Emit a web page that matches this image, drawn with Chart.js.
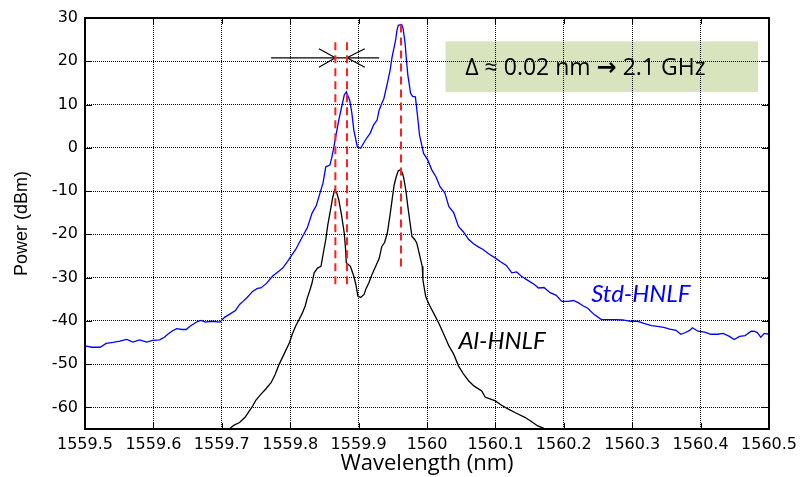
<!DOCTYPE html>
<html>
<head>
<meta charset="utf-8">
<script src="https://cdn.jsdelivr.net/npm/chart.js@4.4.1/dist/chart.umd.min.js"></script>
<style>
html,body{margin:0;padding:0;background:#fff;}
#wrap{width:803px;height:477px;position:relative;}
</style>
</head>
<body>
<div id="wrap"><canvas id="c"></canvas></div>
<script>
// ---- data ----
const stdWavelength = [1559.500,1559.510,1559.522,1559.531,1559.541,1559.551,1559.561,1559.570,1559.580,1559.590,
1559.599,1559.609,1559.616,1559.621,1559.627,1559.634,1559.642,1559.648,1559.653,1559.658,
1559.665,1559.670,1559.676,1559.685,1559.697,1559.704,1559.711,1559.720,1559.726,1559.731,
1559.737,1559.745,1559.752,1559.757,1559.765,1559.774,1559.781,1559.789,1559.796,1559.801,
1559.808,1559.818,1559.825,1559.832,1559.838,1559.842,1559.848,1559.852,1559.858,1559.861,
1559.864,1559.871,1559.879,1559.882,1559.887,1559.890,1559.893,1559.898,1559.903,1559.910,
1559.917,1559.922,1559.927,1559.930,1559.934,1559.937,1559.942,1559.946,1559.949,1559.954,
1559.956,1559.958,1559.963,1559.965,1559.968,1559.970,1559.972,1559.976,1559.979,1559.983,
1559.986,1559.989,1559.995,1560.001,1560.007,1560.013,1560.019,1560.026,1560.032,1560.039,
1560.046,1560.053,1560.061,1560.068,1560.075,1560.082,1560.090,1560.100,1560.107,1560.116,
1560.124,1560.131,1560.138,1560.148,1560.157,1560.163,1560.171,1560.180,1560.189,1560.197,
1560.206,1560.214,1560.221,1560.228,1560.235,1560.244,1560.255,1560.264,1560.276,1560.286,
1560.298,1560.308,1560.317,1560.328,1560.337,1560.346,1560.355,1560.364,1560.371,1560.378,
1560.384,1560.388,1560.396,1560.406,1560.415,1560.425,1560.433,1560.442,1560.449,1560.457,
1560.465,1560.474,1560.478,1560.483,1560.488,1560.493,1560.500];
const stdPower = [-45.8,-46.1,-46.1,-45.2,-45.0,-44.7,-44.3,-44.9,-44.4,-44.9,
-44.5,-44.4,-43.8,-43.1,-42.4,-41.8,-42.0,-42.0,-41.3,-40.8,
-40.1,-39.9,-40.3,-40.1,-40.3,-39.2,-38.5,-37.6,-36.2,-35.5,
-34.6,-33.2,-32.5,-32.4,-31.4,-29.7,-28.8,-27.8,-26.3,-25.1,
-23.5,-20.5,-18.5,-15.1,-13.4,-11.3,-8.1,-4.4,-4.0,-2.1,
0.3,6.4,12.2,12.9,11.0,8.2,4.1,0.3,-0.1,1.8,
3.4,5.3,6.4,8.7,10.3,11.4,14.9,17.9,21.0,24.8,
27.1,28.3,28.5,27.6,24.1,20.2,16.8,12.6,11.9,11.8,
7.6,3.0,-1.3,-2.8,-5.1,-6.7,-9.0,-10.4,-13.6,-15.0,
-18.2,-19.4,-21.2,-22.2,-22.9,-23.5,-24.5,-25.5,-26.3,-27.2,
-28.9,-28.7,-29.7,-30.7,-31.6,-32.4,-32.3,-33.5,-34.1,-35.5,
-35.5,-35.3,-35.8,-36.5,-37.1,-38.5,-39.7,-39.7,-39.7,-39.8,
-40.1,-40.1,-40.6,-41.1,-41.3,-41.5,-41.9,-42.2,-43.1,-42.7,
-42.2,-41.6,-42.4,-42.6,-43.1,-43.1,-42.9,-43.6,-44.3,-43.6,
-43.4,-42.4,-42.4,-42.7,-43.8,-42.9,-43.1];

const alWavelength = [1559.711,1559.718,1559.726,1559.734,1559.745,1559.750,1559.757,1559.764,1559.772,1559.778,
1559.784,1559.791,1559.799,1559.803,1559.808,1559.813,1559.818,1559.822,1559.825,1559.829,
1559.832,1559.835,1559.840,1559.845,1559.848,1559.852,1559.855,1559.859,1559.862,1559.865,
1559.868,1559.871,1559.875,1559.879,1559.881,1559.882,1559.885,1559.888,1559.893,1559.896,
1559.899,1559.903,1559.908,1559.911,1559.915,1559.919,1559.925,1559.930,1559.934,1559.938,
1559.942,1559.946,1559.949,1559.952,1559.955,1559.958,1559.961,1559.964,1559.966,1559.969,
1559.972,1559.975,1559.978,1559.982,1559.985,1559.988,1559.993,1559.994,1559.998,1560.000,
1560.004,1560.012,1560.018,1560.026,1560.032,1560.039,1560.046,1560.053,1560.061,1560.069,
1560.080,1560.085,1560.090,1560.100,1560.109,1560.119,1560.130,1560.143,1560.152,1560.162,
1560.170,1560.174];
const alPower = [-65.0,-64.1,-63.5,-62.3,-59.7,-58.3,-57.0,-55.8,-54.3,-52.4,
-50.0,-47.7,-45.0,-43.1,-41.2,-39.7,-38.1,-36.5,-34.7,-32.8,
-31.2,-28.9,-27.8,-27.4,-24.7,-21.2,-17.8,-14.3,-11.6,-9.7,
-10.4,-12.0,-15.5,-19.7,-23.5,-26.6,-27.0,-27.4,-29.7,-31.6,
-34.3,-34.6,-33.9,-32.5,-31.2,-29.5,-27.4,-25.6,-22.8,-21.9,
-19.7,-15.5,-12.0,-8.6,-6.7,-5.3,-5.1,-5.8,-7.0,-9.7,
-13.6,-17.1,-20.5,-21.2,-22.0,-24.0,-27.4,-30.5,-34.3,-35.1,
-36.5,-38.9,-40.8,-43.6,-45.8,-47.7,-50.4,-52.2,-53.9,-55.1,
-56.2,-57.6,-57.9,-58.5,-59.5,-60.4,-61.3,-62.3,-63.2,-64.3,
-64.8,-65.3];

// peak markers (red dashed lines)
const markerWavelength = [1559.866, 1559.883, 1559.962];
const markerTopPower = [24.4, 24.4, 28.5];
const markerBottomPower = [-32.4, -32.4, -27.8];

// spacing arrow (horizontal line with two inward arrowheads)
const arrowWavelength = [1559.772, 1559.930];
const arrowPower = 20.8;
const arrowHeadLeft = [[1559.842, 22.9], [1559.866, 20.8], [1559.842, 18.6]];
const arrowHeadRight = [[1559.909, 22.9], [1559.883, 20.8], [1559.909, 18.6]];

// axis ticks
const xTickValues = [1559.5,1559.6,1559.7,1559.8,1559.9,1560.0,1560.1,1560.2,1560.3,1560.4,1560.5];
const xTickLabels = ['1559.5','1559.6','1559.7','1559.8','1559.9','1560','1560.1','1560.2','1560.3','1560.4','1560.5'];
const yTickValues = [-60,-50,-40,-30,-20,-10,0,10,20,30];
const yTickLabels = ['-60','-50','-40','-30','-20','-10','0','10','20','30'];

// texts
const seriesNames = ['Std-HNLF', 'Al-HNLF'];
const noteParts = ['Δ ≈ 0.02 nm ', '→', ' 2.1 GHz'];

// ---- annotation anchors (data units) ----
const noteBox = {x0: 1560.027, x1: 1560.484, y0: 24.6, y1: 12.9};
const noteAnchor = {x: 1560.056, y: 18.3};
const stdLabelAnchor = {x: 1560.240, y: -33.8};
const alLabelAnchor = {x: 1560.046, y: -44.7};

const toXY = (xs, ys) => xs.map((x, i) => ({x: x, y: ys[i]}));

const datasets = [];
markerWavelength.forEach((w, i) => {
  datasets.push({
    data: [{x: w, y: markerTopPower[i]}, {x: w, y: markerBottomPower[i]}],
    borderColor: '#ff1f1f', borderWidth: 2, borderDash: [8, 5],
    pointRadius: 0, order: 0
  });
});
datasets.push({
  data: arrowWavelength.map(w => ({x: w, y: arrowPower})),
  borderColor: '#000', borderWidth: 1.2, pointRadius: 0, order: 0
});
[arrowHeadLeft, arrowHeadRight].forEach(h => {
  datasets.push({
    data: h.map(p => ({x: p[0], y: p[1]})),
    borderColor: '#000', borderWidth: 1.2, pointRadius: 0, order: 0
  });
});
datasets.push({
  label: seriesNames[0], data: toXY(stdWavelength, stdPower),
  borderColor: '#0000ff', borderWidth: 1.3, pointRadius: 0, order: 2
});
datasets.push({
  label: seriesNames[1], data: toXY(alWavelength, alPower),
  borderColor: '#000000', borderWidth: 1.3, pointRadius: 0, order: 1
});

const decor = {
  id: 'decor',
  beforeDraw(chart) {
    const {ctx, scales: {x, y}} = chart;
    ctx.save();
    ctx.fillStyle = '#d7e4bd';
    const px0 = x.getPixelForValue(noteBox.x0), px1 = x.getPixelForValue(noteBox.x1);
    const py0 = y.getPixelForValue(noteBox.y0), py1 = y.getPixelForValue(noteBox.y1);
    ctx.fillRect(px0, py0, px1 - px0, py1 - py0);
    ctx.restore();
  },
  afterDatasetsDraw(chart) {
    const {ctx, chartArea: a, scales: {x, y}} = chart;
    ctx.save();
    // inner tick marks
    ctx.strokeStyle = '#000'; ctx.lineWidth = 1;
    ctx.beginPath();
    xTickValues.forEach(v => {
      const px = Math.round(x.getPixelForValue(v)) + 0.5;
      ctx.moveTo(px, a.bottom); ctx.lineTo(px, a.bottom - 6);
      ctx.moveTo(px, a.top); ctx.lineTo(px, a.top + 6);
    });
    yTickValues.forEach(v => {
      const py = Math.round(y.getPixelForValue(v)) + 0.5;
      ctx.moveTo(a.left, py); ctx.lineTo(a.left + 7, py);
      ctx.moveTo(a.right, py); ctx.lineTo(a.right - 7, py);
    });
    ctx.stroke();
    // frame
    ctx.lineWidth = 2;
    ctx.strokeRect(a.left, a.top, a.right - a.left, a.bottom - a.top);
    // note text
    ctx.fillStyle = '#000';
    ctx.textBaseline = 'middle';
    ctx.textAlign = 'left';
    let tx = x.getPixelForValue(noteAnchor.x);
    const ty = y.getPixelForValue(noteAnchor.y);
    noteParts.forEach((p, i) => {
      ctx.font = (i === 1 ? 'bold 24px "DejaVu Sans"' : '23px "Open Sans"');
      ctx.fillText(p, tx, ty);
      tx += ctx.measureText(p).width;
    });
    // series labels
    ctx.font = 'italic 24px Lato';
    ctx.fillStyle = '#0000ff';
    ctx.fillText(seriesNames[0], x.getPixelForValue(stdLabelAnchor.x), y.getPixelForValue(stdLabelAnchor.y));
    ctx.fillStyle = '#000';
    ctx.fillText(seriesNames[1], x.getPixelForValue(alLabelAnchor.x), y.getPixelForValue(alLabelAnchor.y));
    ctx.restore();
  }
};

new Chart(document.getElementById('c'), {
  type: 'line',
  data: {datasets: datasets},
  options: {
    responsive: true, maintainAspectRatio: false, animation: false,
    devicePixelRatio: 1,
    layout: {padding: {top: 18, right: 31, left: 0, bottom: 0}},
    plugins: {legend: {display: false}, tooltip: {enabled: false}},
    elements: {line: {tension: 0}},
    scales: {
      x: {
        type: 'linear', min: 1559.5, max: 1560.5,
        afterBuildTicks: s => { s.ticks = xTickValues.map(v => ({value: v})); },
        afterFit: s => { s.height = 48; },
        ticks: {
          callback: (v, i) => xTickLabels[i],
          color: '#000', font: {family: 'DejaVu Sans', size: 16}, padding: 6,
          maxRotation: 0, autoSkip: false
        },
        grid: {color: '#000', lineWidth: 1, drawTicks: false},
        border: {display: false, dash: [1, 1]},
        title: {display: true, text: 'Wavelength (nm)', color: '#000',
          font: {family: 'Open Sans', size: 22}, padding: {top: 0, bottom: 0}}
      },
      y: {
        type: 'linear', min: -65, max: 30,
        afterBuildTicks: s => { s.ticks = yTickValues.map(v => ({value: v})); },
        afterFit: s => { s.width = 85; },
        ticks: {
          callback: (v, i) => yTickLabels[i],
          color: '#000', font: {family: 'DejaVu Sans', size: 16}, padding: 7,
          autoSkip: false
        },
        grid: {color: '#000', lineWidth: 1, drawTicks: false},
        border: {display: false, dash: [1, 1]},
        title: {display: true, text: 'Power (dBm)', color: '#000',
          font: {family: 'Liberation Sans', size: 18}, padding: {top: 11, bottom: 0}}
      }
    }
  },
  plugins: [decor]
});
</script>
</body>
</html>
